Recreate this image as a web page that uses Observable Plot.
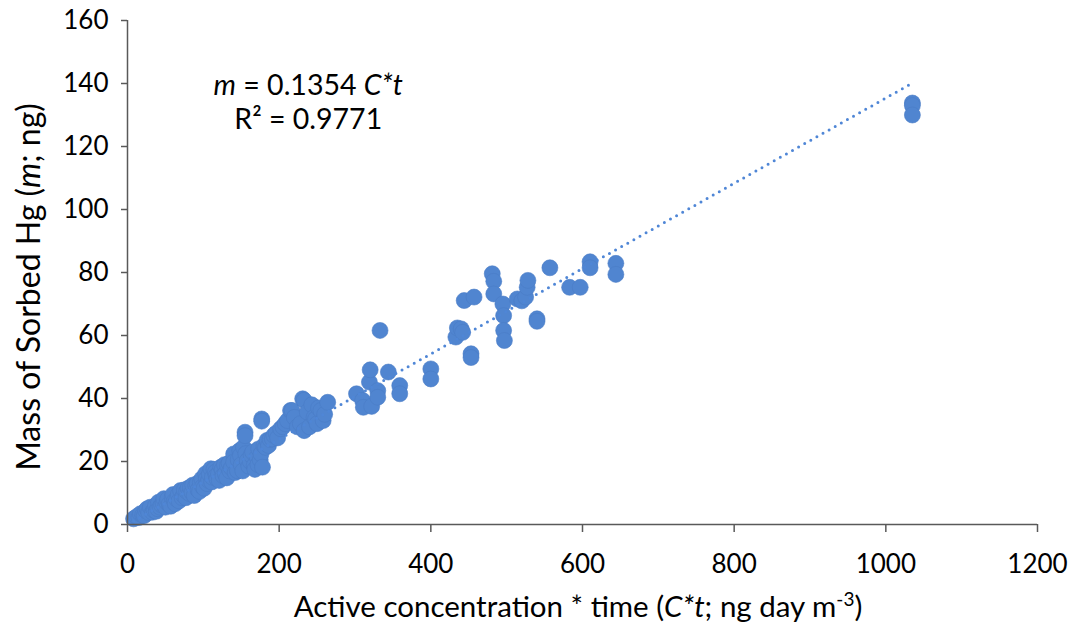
<!DOCTYPE html>
<html><head><meta charset="utf-8">
<script src="https://cdn.jsdelivr.net/npm/d3@7"></script>
<script src="https://cdn.jsdelivr.net/npm/@observablehq/plot@0.6"></script>
<style>body{margin:0;background:#fff} svg{display:block}</style>
</head><body><div id="chart"></div>
<script>
// Active concentration * time (C*t; ng day m-3)
const ctValues = [8,12,15,17,20,22,24,26,28,30,33,35,37,38,40,41,43,45,47,48,50,52,53,55,57,59,60,62,63,65,67,68,70,72,74,75,77,78,80,82,83,85,86,88,90,92,93,95,96,98,99,101,103,104,105,107,108,110,111,112,114,116,117,118,120,121,123,125,126,128,129,131,132,134,135,137,140,140,142,145,146,148,149,150,152,153,155,155,156,158,160,162,163,165,167,168,171,172,173,175,176,177,177,178,180,182,184,186,188,191,193,196,198,202,205,208,211,215,217,220,224,228,231,233,233,237,240,243,246,248,250,252,255,258,260,264,302,310,311,319,320,322,330,330,333,344,359,359,400,400,433,435,440,442,444,453,453,457,481,483,483,495,496,496,497,514,520,525,527,528,540,540,557,583,597,610,610,644,644,1035,1035,1035];
// Mass of sorbed Hg (m; ng)
const massValues = [1.8,2.5,2.2,3.4,3.0,2.8,4.4,5.0,3.8,5.5,3.9,4.5,6.0,4.2,5.0,7.1,5.5,6.2,6.8,8.2,5.5,7.0,8.0,6.5,5.8,8.7,9.5,7.5,6.6,8.0,9.5,7.5,10.8,8.5,9.2,11.0,8.5,10.5,11.5,9.8,11.8,10.2,12.5,9.2,12.5,13.0,11.0,10.5,13.4,14.5,12.0,11.5,16.1,14.5,13.0,14.0,16.0,17.7,13.5,15.0,17.5,16.6,15.5,14.5,16.0,14.0,18.2,17.5,15.5,19.0,16.1,14.8,18.7,19.5,17.0,18.0,22.4,19.8,16.5,17.1,20.5,23.5,21.9,19.0,17.0,24.5,29.3,28.2,22.5,20.3,18.5,20.0,22.0,23.0,18.7,17.5,21.4,19.0,24.0,20.5,22.4,33.5,32.8,18.2,25.0,24.5,26.7,25.1,27.0,27.2,28.3,29.0,27.5,30.4,31.0,32.0,33.0,36.2,36.2,34.0,31.0,32.0,39.9,29.8,39.4,35.7,31.0,38.0,34.0,33.5,32.0,37.0,36.2,33.0,35.0,38.8,41.5,39.4,37.2,45.2,49.1,37.5,42.5,40.4,61.6,48.4,44.1,41.5,49.4,46.2,59.5,62.4,62.1,61.0,71.1,54.2,53.0,72.2,79.6,77.2,73.2,70.0,66.3,61.6,58.4,71.6,71.0,72.2,75.3,77.5,65.3,64.5,81.5,75.3,75.3,83.4,81.5,82.9,79.4,133.8,133.0,130.0];
const xTicks = [0,200,400,600,800,1000,1200];
const yTicks = [0,20,40,60,80,100,120,140,160];
const slope = 0.1354;
const rSquared = "0.9771";
const trendRange = [8, 1035];

const points = ctValues.map((x, i) => ({x, y: massValues[i]}));
const trend = trendRange.map(x => ({x, y: slope * x}));
const FONT = "Lato, 'Open Sans', sans-serif";
const AXIS = "#595959";

const plot = Plot.plot({
  width: 1071, height: 625,
  marginLeft: 127, marginRight: 34, marginTop: 20, marginBottom: 101,
  style: {fontFamily: FONT, fontSize: "26px", color: "#000", background: "#fff"},
  x: {domain: [0, 1200]},
  y: {domain: [0, 160]},
  marks: [
    Plot.dot(points, {x: "x", y: "y", r: 8, fill: "#5085d0", stroke: "#4a7cc6", strokeWidth: 0.6}),
    Plot.line(trend, {x: "x", y: "y", stroke: "#4f86d6", strokeWidth: 3, strokeDasharray: "0 7", strokeLinecap: "round"}),
    Plot.ruleX([0], {stroke: AXIS, strokeWidth: 1.5}),
    Plot.ruleY([0], {stroke: AXIS, strokeWidth: 1.5}),
    Plot.axisX({ticks: xTicks, tickFormat: d => String(d), tickSize: 8, tickPadding: 22, stroke: AXIS, fill: "#000", fontSize: 26, label: null, strokeWidth: 1.5}),
    Plot.axisY({ticks: yTicks, tickFormat: d => String(d), tickSize: 6, tickPadding: 13, stroke: AXIS, fill: "#000", fontSize: 26, label: null, strokeWidth: 1.5})
  ]
});
document.getElementById("chart").appendChild(plot);

const sx = plot.scale("x"), sy = plot.scale("y");
const svg = d3.select(plot);
function addText(x, y, parts, size, rotate) {
  const t = svg.append("text")
    .attr("text-anchor", "middle")
    .attr("font-family", FONT)
    .attr("font-size", size)
    .attr("fill", "#000")
    .attr("transform", `translate(${x},${y})` + (rotate ? ` rotate(${rotate})` : ""));
  for (const p of parts) {
    const s = t.append("tspan").text(p.t);
    if (p.i) s.attr("font-style", "italic");
    if (p.sup) s.attr("baseline-shift", "super").attr("font-size", Math.round(size * 0.65));
  }
  return t;
}
const xMid = (sx.apply(0) + sx.apply(1200)) / 2;
const yMid = (sy.apply(0) + sy.apply(160)) / 2;
addText(xMid - 4, 617, [{t: "Active concentration * time ("}, {t: "C*t", i: 1}, {t: "; ng day m"}, {t: "-3", sup: 1}, {t: ")"}], 29.5);
addText(40, yMid + 15, [{t: "Mass of Sorbed Hg ("}, {t: "m", i: 1}, {t: "; ng)"}], 32, -90);
addText(sx.apply(239), sy.apply(136.2), [{t: "m", i: 1}, {t: " = " + slope + " "}, {t: "C*t", i: 1}], 28.5);
addText(sx.apply(239), sy.apply(125.5), [{t: "R² = " + rSquared}], 28.5);
</script>
</body></html>
